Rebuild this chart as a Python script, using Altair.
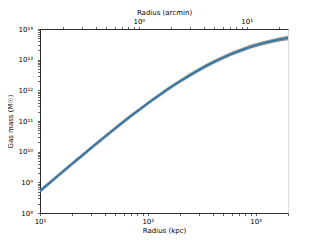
import altair as alt
import pandas as pd

# Data
radius_kpc = [10, 20, 31.6, 50, 70, 100, 126, 158, 200, 300, 400, 600, 800, 1000, 1500, 2000]
gas_mass = [5.25e8, 4.10e9, 1.57e10, 5.79e10, 1.47e11, 3.76e11, 6.73e11, 1.17e12,
            2.00e12, 4.70e12, 8.07e12, 1.55e13, 2.28e13, 2.93e13, 4.2e13, 5.1e13]
mass_low = [4.53e8, 3.53e9, 1.35e10, 4.99e10, 1.27e11, 3.24e11, 5.80e11, 1.01e12,
            1.72e12, 4.05e12, 6.96e12, 1.34e13, 1.97e13, 2.53e13, 3.6e13, 4.3e13]
mass_high = [6.09e8, 4.76e9, 1.82e10, 6.72e10, 1.71e11, 4.36e11, 7.81e11, 1.36e12,
             2.32e12, 5.45e12, 9.36e12, 1.80e13, 2.64e13, 3.40e13, 4.9e13, 6.05e13]

x_domain = [10, 2000]
arcmin_domain = [0.1211, 24.21]
y_domain = [1e8, 1e14]

sup = {"0": "⁰", "1": "¹", "2": "²", "3": "³", "4": "⁴", "5": "⁵",
       "6": "⁶", "7": "⁷", "8": "⁸", "9": "⁹", "-": "⁻"}


def log_ticks(lo_exp, hi_exp, stop):
    vals = []
    for e in range(lo_exp, hi_exp + 1):
        for k in range(1, 10):
            v = k * 10.0 ** e
            if v <= stop * 1.0001:
                vals.append(v)
    return vals


def label_expr(exps):
    expr = "''"
    for e in exps:
        s = "10" + "".join(sup[c] for c in str(e))
        expr = f"abs(datum.value / {10.0 ** e!r} - 1) < 1e-6 ? '{s}' : ({expr})"
    return expr


df = pd.DataFrame({"r": radius_kpc, "m": gas_mass, "lo": mass_low, "hi": mass_high})
top_df = pd.DataFrame({"a": arcmin_domain})

FONT = "DejaVu Sans"
axis_common = dict(
    grid=False, domainColor="black", domainWidth=0.8, tickColor="black",
    tickWidth=0.6, tickSize=2.5, labelFont=FONT, labelFontSize=7,
    labelColor="black", titleFont=FONT, titleFontSize=7, titleFontWeight="normal",
    titleColor="black", labelFlush=False, labelOverlap=False,
)

xscale = alt.Scale(type="log", domain=x_domain, nice=False)
yscale = alt.Scale(type="log", domain=y_domain, nice=False)

x_enc = alt.X("r:Q", scale=xscale, axis=alt.Axis(
    title="Radius (kpc)", values=log_ticks(1, 3, 2000), labelExpr=label_expr([1, 2, 3]),
    labelPadding=2, titlePadding=2, **axis_common))
y_axis = alt.Axis(
    title="Gas mass (M☉)", values=log_ticks(8, 14, 1e14),
    labelExpr=label_expr(list(range(8, 15))), labelPadding=5, titlePadding=4, **axis_common)

band = alt.Chart(df).mark_area(color="#7f7f7f", opacity=0.85, interpolate="monotone").encode(
    x=x_enc,
    y=alt.Y("lo:Q", scale=yscale, axis=y_axis),
    y2="hi:Q",
)
line = alt.Chart(df).mark_line(color="#1f77b4", strokeWidth=1.5, interpolate="monotone").encode(
    x=alt.X("r:Q", scale=xscale, axis=None),
    y=alt.Y("m:Q", scale=yscale),
)
top = alt.Chart(top_df).mark_point(opacity=0).encode(
    x=alt.X("a:Q", scale=alt.Scale(type="log", domain=arcmin_domain, nice=False),
            axis=alt.Axis(title="Radius (arcmin)", orient="top",
                          values=log_ticks(-1, 1, 20), labelExpr=label_expr([0, 1]),
                          labelPadding=2, titlePadding=2, **axis_common)),
    y=alt.value(100),
)

chart = alt.layer(band, line, top).resolve_scale(x="independent").properties(
    width=248, height=184,
    autosize=alt.AutoSizeParams(type="none"),
    padding={"left": 32, "top": 21, "right": 24, "bottom": 22},
).configure_view(stroke="black", strokeWidth=0.8).configure(background="white")

chart.save("out.html", embed_options={"renderer": "svg", "actions": False})
